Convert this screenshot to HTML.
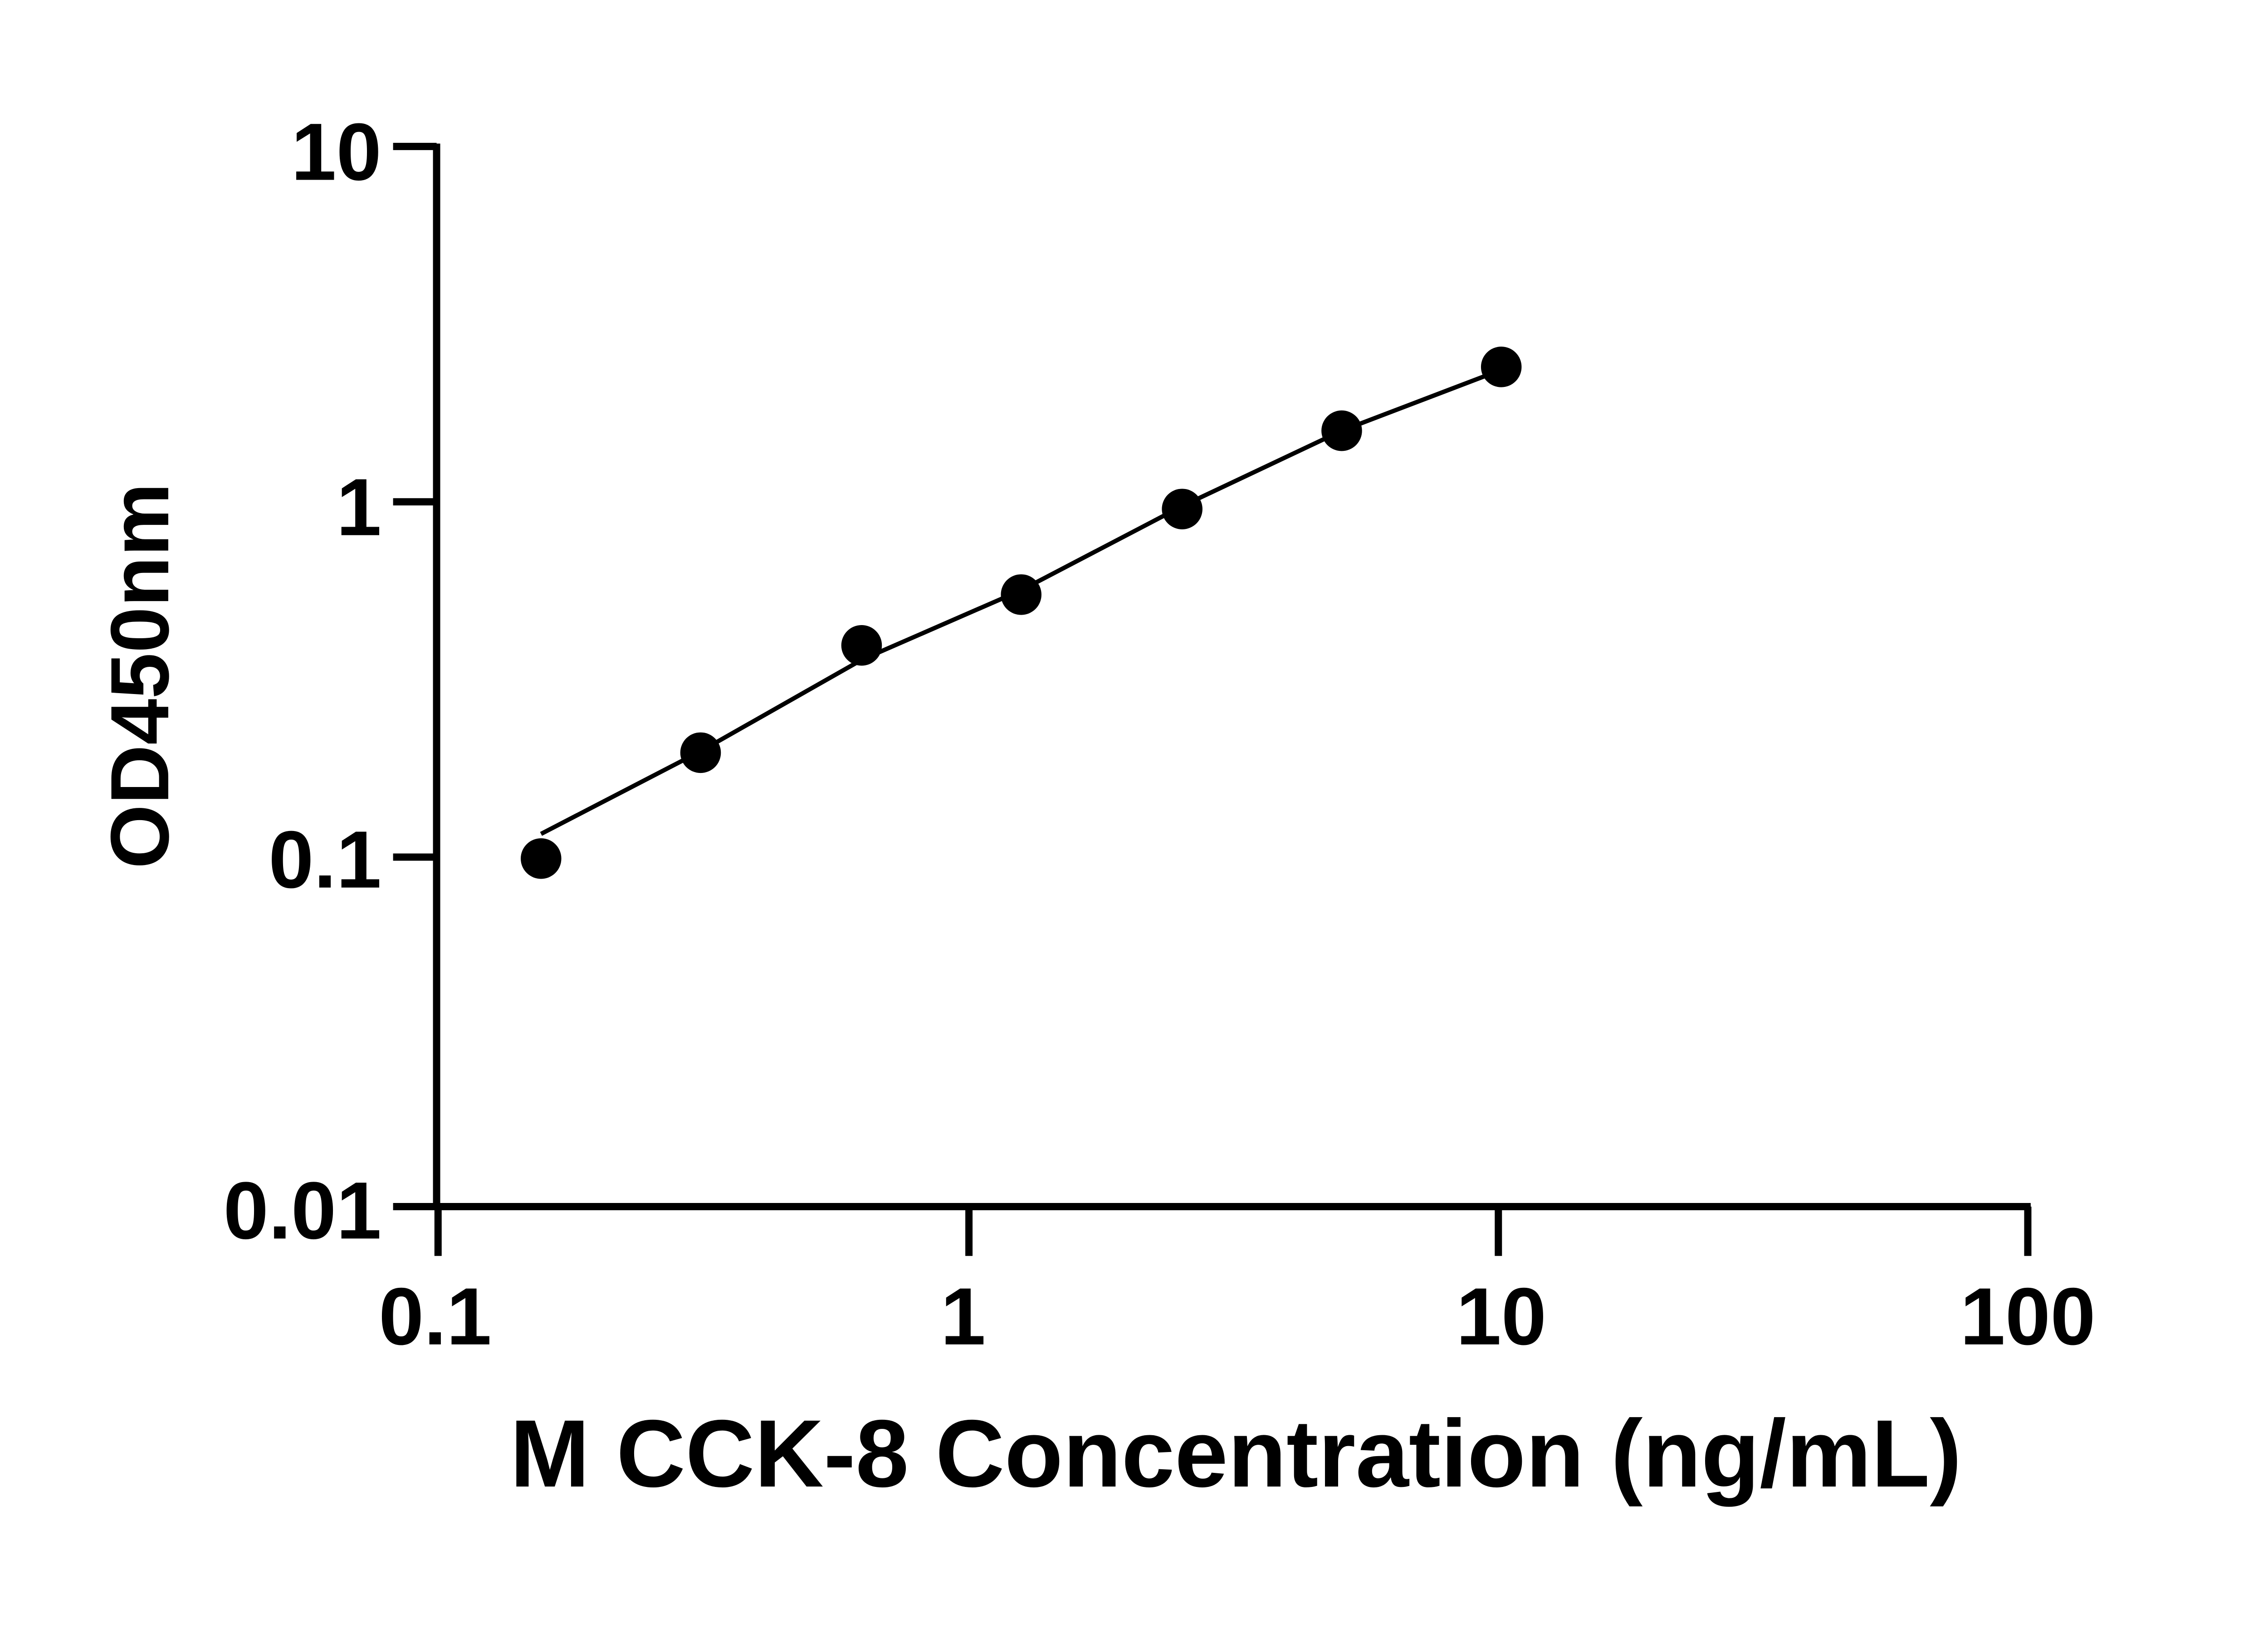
<!DOCTYPE html>
<html><head><meta charset="utf-8"><style>html,body{margin:0;padding:0;background:#fff}svg{display:block}</style></head>
<body>
<svg width="5142" height="3600" viewBox="0 0 1608 1126" preserveAspectRatio="none" xmlns="http://www.w3.org/2000/svg" font-family="'Liberation Sans', 'DejaVu Sans', sans-serif" font-weight="bold">
<rect width="1608" height="1126" fill="#fff"/>
<g stroke="#000" stroke-width="5" fill="none" stroke-linecap="butt">
<line x1="301" y1="99" x2="301" y2="834"/>
<line x1="299" y1="832" x2="1400" y2="832"/>
<line x1="271" y1="101" x2="301" y2="101"/>
<line x1="271" y1="346" x2="301" y2="346"/>
<line x1="271" y1="591" x2="301" y2="591"/>
<line x1="271" y1="832" x2="301" y2="832"/>
<line x1="302" y1="832" x2="302" y2="866"/>
<line x1="668" y1="832" x2="668" y2="866"/>
<line x1="1033" y1="832" x2="1033" y2="866"/>
<line x1="1398" y1="832" x2="1398" y2="866"/>
</g>
<g font-size="56" fill="#000" text-anchor="end">
<text x="263" y="124">10</text>
<text x="263" y="369">1</text>
<text x="263" y="612">0.1</text>
<text x="263" y="854">0.01</text>
</g>
<g font-size="56" fill="#000" text-anchor="middle">
<text x="300" y="927">0.1</text>
<text x="664" y="927">1</text>
<text x="1035" y="927">10</text>
<text x="1398" y="927">100</text>
</g>
<text x="852" y="1025" font-size="66" text-anchor="middle" fill="#000">M CCK-8 Concentration (ng/mL)</text>
<text transform="translate(116,466) rotate(-90)" font-size="57" text-anchor="middle" fill="#000">OD450nm</text>
<polyline points="373,575 483,518 594,455 704,407 815,349 925,297 1035,255" stroke="#000" stroke-width="3" fill="none"/>
<g fill="#000">
<circle cx="373" cy="592" r="14"/>
<circle cx="483" cy="519" r="14"/>
<circle cx="594" cy="445" r="14"/>
<circle cx="704" cy="410" r="14"/>
<circle cx="815" cy="351" r="14"/>
<circle cx="925" cy="297" r="14"/>
<circle cx="1035" cy="253" r="14"/>
</g>
</svg>
</body></html>
